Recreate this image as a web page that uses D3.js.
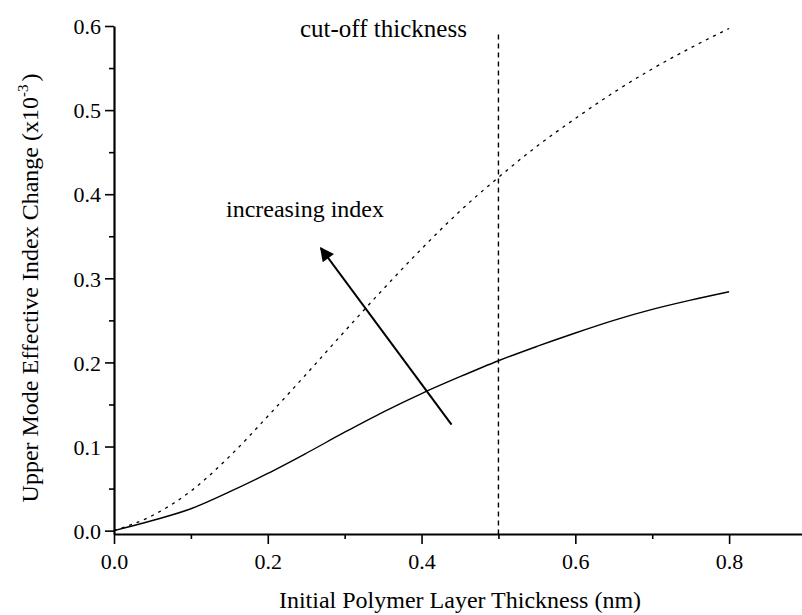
<!DOCTYPE html>
<html>
<head>
<meta charset="utf-8">
<script src="https://cdn.jsdelivr.net/npm/d3@7"></script>
<style>
  body { margin: 0; background: #fff; }
  svg text { font-family: "Liberation Serif", "Times New Roman", serif; fill: #000; }
</style>
</head>
<body>
<div id="chart"></div>
<script>
// thickness (nm)
const thickness = [0, 0.05, 0.1, 0.15, 0.2, 0.25, 0.3, 0.35, 0.4, 0.45, 0.5, 0.55, 0.6, 0.65, 0.7, 0.75, 0.8];
// lower index (solid)
const solidValues = [0, 0.012, 0.026, 0.046, 0.068, 0.092, 0.117, 0.141, 0.163, 0.183, 0.202, 0.219, 0.235, 0.250, 0.263, 0.274, 0.284];
// higher index (dashed)
const dashedValues = [0, 0.018, 0.047, 0.088, 0.136, 0.186, 0.237, 0.287, 0.335, 0.380, 0.420, 0.457, 0.490, 0.521, 0.549, 0.574, 0.597];

const xMajor = [0, 0.2, 0.4, 0.6, 0.8];
const xMinor = [0.1, 0.3, 0.5, 0.7];
const yMajor = [0, 0.1, 0.2, 0.3, 0.4, 0.5, 0.6];
const yMinor = [0.05, 0.15, 0.25, 0.35, 0.45, 0.55];

const cutoff = 0.5;
// arrow, from tail to head, in data units
const arrowTail = [0.439, 0.126];
const arrowHead = [0.269, 0.336];

const W = 802, H = 615;

const svg = d3.select("#chart").append("svg")
    .attr("width", W)
    .attr("height", H);

// scales
const x = d3.scaleLinear().domain([0, 0.9]).range([114, 806]);
const y = d3.scaleLinear().domain([-0.004, 0.6]).range([534, 26]);

const x0 = y.range()[0];

// x axis
const xAxis = svg.append("g").attr("transform", "translate(0," + x0 + ")")
    .call(d3.axisBottom(x).tickValues(xMajor).tickSize(10).tickSizeOuter(0).tickFormat(d3.format(".1f")));
svg.append("g").attr("transform", "translate(0," + x0 + ")")
    .call(d3.axisBottom(x).tickValues(xMinor).tickSize(5).tickSizeOuter(0).tickFormat(""))
    .select(".domain").remove();

// y axis
const yAxis = svg.append("g").attr("transform", "translate(" + x(0) + ",0)")
    .call(d3.axisLeft(y).tickValues(yMajor).tickSize(9).tickSizeOuter(0).tickFormat(d3.format(".1f")));
svg.append("g").attr("transform", "translate(" + x(0) + ",0)")
    .call(d3.axisLeft(y).tickValues(yMinor).tickSize(5).tickSizeOuter(0).tickFormat(""))
    .select(".domain").remove();

svg.selectAll(".domain").attr("stroke", "#000").attr("stroke-width", 2.2);
svg.selectAll(".tick line").attr("stroke", "#000").attr("stroke-width", 1.6);
svg.selectAll(".tick text")
    .style("font-family", '"Liberation Serif", serif')
    .style("font-size", "22px")
    .attr("fill", "#000");
xAxis.selectAll(".tick text").attr("y", 19);
yAxis.selectAll(".tick text").attr("x", -13).attr("dy", "0.35em");

// cut-off line
svg.append("line")
    .attr("x1", x(cutoff)).attr("x2", x(cutoff))
    .attr("y1", y(0.59)).attr("y2", x0)
    .attr("stroke", "#000")
    .attr("stroke-width", 1.4)
    .attr("stroke-dasharray", "5,4");

// curves
const line = d3.line()
    .x((d, i) => x(thickness[i]))
    .y(d => y(d))
    .curve(d3.curveMonotoneX);

svg.append("path")
    .attr("d", line(solidValues))
    .attr("fill", "none")
    .attr("stroke", "#000")
    .attr("stroke-width", 1.4);

svg.append("path")
    .attr("d", line(dashedValues))
    .attr("fill", "none")
    .attr("stroke", "#000")
    .attr("stroke-width", 1.3)
    .attr("stroke-dasharray", "3,5");

// arrow
svg.append("defs").append("marker")
    .attr("id", "head")
    .attr("viewBox", "0 0 10 10")
    .attr("refX", 9).attr("refY", 5)
    .attr("markerWidth", 8).attr("markerHeight", 7)
    .attr("markerUnits", "strokeWidth")
    .attr("orient", "auto")
    .append("path")
    .attr("d", "M0,0 L10,5 L0,10 Z")
    .attr("fill", "#000");

svg.append("line")
    .attr("x1", x(arrowTail[0])).attr("y1", y(arrowTail[1]))
    .attr("x2", x(arrowHead[0])).attr("y2", y(arrowHead[1]))
    .attr("stroke", "#000")
    .attr("stroke-width", 2)
    .attr("marker-end", "url(#head)");

// annotations
svg.append("text")
    .attr("x", 300).attr("y", 37)
    .style("font-size", "25px")
    .text("cut-off thickness");

svg.append("text")
    .attr("x", 226).attr("y", 217)
    .style("font-size", "24px")
    .text("increasing index");

// axis titles
svg.append("text")
    .attr("x", 460).attr("y", 608)
    .attr("text-anchor", "middle")
    .style("font-size", "24px")
    .text("Initial Polymer Layer Thickness (nm)");

const yt = svg.append("text")
    .attr("transform", "translate(38,288) rotate(-90)")
    .attr("text-anchor", "middle")
    .style("font-size", "24px");
yt.append("tspan").text("Upper Mode Effective Index Change (x10");
yt.append("tspan").attr("dy", -10).style("font-size", "15px").text("-3");
yt.append("tspan").attr("dy", 10).attr("dx", 3).text(")");
</script>
</body>
</html>
